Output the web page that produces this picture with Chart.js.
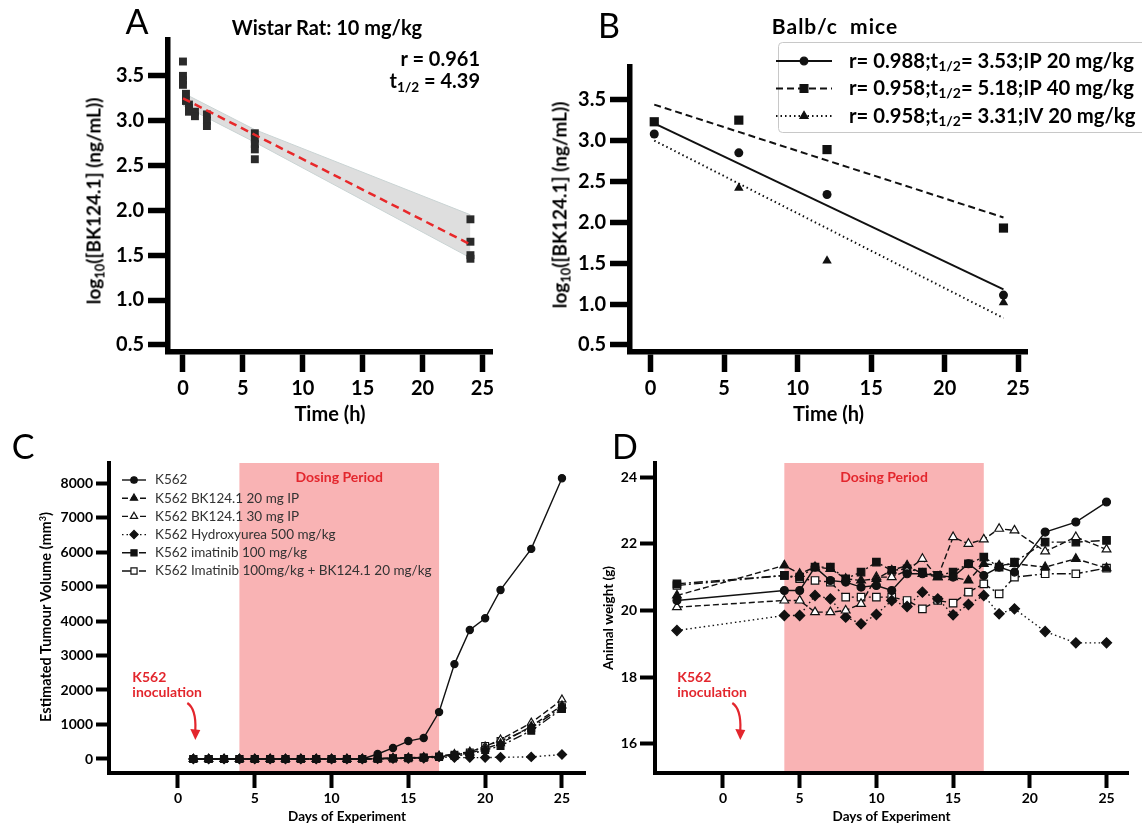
<!DOCTYPE html>
<html>
<head>
<meta charset="utf-8">
<title>BK124.1 pharmacokinetics and K562 xenograft</title>
<script src="https://cdn.jsdelivr.net/npm/chart.js@4.4.1/dist/chart.umd.min.js"></script>
<style>
  body { margin: 0; width: 1142px; height: 825px; overflow: hidden; background: #fff; position: relative; font-family: Lato, "Open Sans", sans-serif; }
  canvas { position: absolute; }
  .txt { position: absolute; white-space: pre; color: #000; line-height: 1; }
  .panel { font-size: 34px; }
  .b { font-weight: bold; }
  .vert { transform: translate(-50%, -50%) rotate(-90deg); font-weight: bold; }
  .mid { transform: translate(-50%, -50%); }
  .rmid { transform: translate(-100%, -50%); }
  sub { font-size: 68%; vertical-align: -0.3em; line-height: 0; }
  sup { font-size: 62%; vertical-align: 0.55em; line-height: 0; }
</style>
</head>
<body>
<canvas id="chartA" width="540" height="430" style="left:0;top:0"></canvas>
<canvas id="chartB" width="602" height="430" style="left:540px;top:0"></canvas>
<canvas id="chartC" width="600" height="395" style="left:0;top:430px"></canvas>
<canvas id="chartD" width="562" height="395" style="left:580px;top:430px"></canvas>

<div class="txt panel mid" style="left:137px;top:21px">A</div>
<div class="txt panel mid" style="left:609px;top:25px">B</div>
<div class="txt panel mid" style="left:23px;top:446px">C</div>
<div class="txt panel mid" style="left:625px;top:446px">D</div>

<div class="txt b mid" style="left:327px;top:27px;font-size:20px">Wistar Rat: 10 mg/kg</div>
<div class="txt b rmid" style="left:480px;top:58px;font-size:20px">r = 0.961</div>
<div class="txt b rmid" style="left:480px;top:80px;font-size:20px">t<sub>1/2</sub> = 4.39</div>
<div class="txt b mid" style="left:835px;top:25px;font-size:21px;letter-spacing:1px">Balb/c  mice</div>

<div class="txt vert" style="left:93px;top:201px;font-size:19px">log<sub>10</sub>([BK124.1] (ng/mL))</div>
<div class="txt vert" style="left:559px;top:205px;font-size:19px">log<sub>10</sub>([BK124.1] (ng/mL))</div>
<div class="txt vert" style="left:46px;top:617px;font-size:14.5px">Estimated Tumour Volume (mm<sup>3</sup>)</div>

<script>
// ---- Panel A: Wistar rat, 10 mg/kg ----
const aTime = [0, 0, 0, 0, 0.25, 0.25, 0.5, 0.5, 0.5, 1, 1, 2, 2, 2, 6, 6, 6, 6, 6, 24, 24, 24, 24];
const aConc = [3.66, 3.5, 3.45, 3.4, 3.3, 3.22, 3.18, 3.14, 3.1, 3.1, 3.05, 3.07, 3.0, 2.94, 2.86, 2.8, 2.74, 2.68, 2.57, 1.9, 1.65, 1.5, 1.46];
const aFitTime = [0, 24];
const aFitConc = [3.25, 1.62];
const aBandTime = [0, 6, 24];
const aBandUpper = [3.31, 2.9, 1.95];
const aBandLower = [3.17, 2.76, 1.47];

// ---- Panel B: Balb/c mice ----
const bTime = [0.25, 6, 12, 24];
const bIP20 = [3.08, 2.85, 2.34, 1.11];
const bIP40 = [3.23, 3.25, 2.89, 1.93];
const bIVTime = [6, 12, 24];
const bIV20 = [2.42, 1.53, 1.02];
const bFitTime = [0.25, 24];
const bFitIP20 = [3.21, 1.18];
const bFitIP40 = [3.44, 2.06];
const bFitIV20 = [3.0, 0.83];
const bR = ['0.988', '0.958', '0.958'];
const bHalfLife = ['3.53', '5.18', '3.31'];
const bRoute = ['IP 20 mg/kg', 'IP 40 mg/kg', 'IV 20 mg/kg'];

const pkXTicks = [0, 5, 10, 15, 20, 25];
const pkYTicks = [0.5, 1.0, 1.5, 2.0, 2.5, 3.0, 3.5];

// ---- Panels C and D: K562 xenograft ----
const groupNames = ['K562', 'K562 BK124.1 20 mg IP', 'K562 BK124.1 30 mg IP', 'K562 Hydroxyurea 500 mg/kg', 'K562 imatinib 100 mg/kg', 'K562 Imatinib 100mg/kg + BK124.1 20 mg/kg'];
const dosingPeriod = [4, 17];
const inoculationDay = 1;
const dayTicks = [0, 5, 10, 15, 20, 25];

const cDays = [1, 2, 3, 4, 5, 6, 7, 8, 9, 10, 11, 12, 13, 14, 15, 16, 17, 18, 19, 20, 21, 23, 25];
const cK562 = [0, 0, 0, 0, 0, 0, 0, 0, 0, 0, 0, 0, 145, 320, 520, 610, 1360, 2750, 3740, 4080, 4900, 6090, 8140];
const cBK20 = [0, 0, 0, 0, 0, 0, 0, 0, 0, 0, 0, 0, 10, 20, 30, 40, 80, 110, 170, 300, 450, 950, 1550];
const cBK30 = [0, 0, 0, 0, 0, 0, 0, 0, 0, 0, 0, 0, 15, 25, 35, 50, 90, 140, 210, 360, 560, 1050, 1720];
const cHydroxyurea = [0, 0, 0, 0, 0, 0, 0, 0, 0, 0, 0, 0, 5, 10, 15, 20, 60, 40, 40, 40, 50, 60, 130];
const cImatinib = [0, 0, 0, 0, 0, 0, 0, 0, 0, 0, 0, 0, 10, 15, 25, 35, 60, 90, 140, 260, 380, 820, 1450];
const cCombo = [0, 0, 0, 0, 0, 0, 0, 0, 0, 0, 0, 0, 10, 20, 30, 45, 70, 120, 190, 380, 520, 900, 1500];
const cYTicks = [0, 1000, 2000, 3000, 4000, 5000, 6000, 7000, 8000];

const dDays = [-3, 4, 5, 6, 7, 8, 9, 10, 11, 12, 13, 14, 15, 16, 17, 18, 19, 21, 23, 25];
const dK562 = [20.3, 20.6, 20.6, 21.3, 20.9, 20.85, 20.7, 20.75, 20.6, 21.1, 21.1, 21.05, 21.0, 21.4, 21.05, 21.3, 21.15, 22.35, 22.65, 23.25];
const dBK20 = [20.45, 21.35, 21.1, 21.3, 21.25, 20.95, 20.9, 20.95, 21.2, 21.35, 21.1, 21.0, 21.0, 20.9, 21.4, 21.35, 21.4, 21.3, 21.55, 21.27];
const dBK30 = [20.1, 20.3, 20.3, 19.95, 19.95, 20.0, 20.2, 21.0, 21.0, 21.2, 21.55, 21.0, 22.2, 22.0, 22.13, 22.45, 22.4, 21.77, 22.2, 21.83];
const dHydroxyurea = [19.4, 19.85, 19.85, 20.45, 20.35, 19.8, 19.6, 19.88, 20.3, 20.12, 20.55, 20.35, 19.87, 20.18, 20.45, 19.9, 20.05, 19.37, 19.03, 19.03];
const dImatinib = [20.8, 21.05, 21.0, 21.3, 21.3, 20.95, 21.15, 21.45, 21.2, 21.25, 21.15, 21.05, 21.15, 21.4, 21.6, 21.3, 21.45, 22.05, 22.05, 22.1];
const dCombo = [20.75, 21.05, 20.95, 20.9, 20.85, 20.4, 20.4, 20.4, 20.4, 20.3, 20.05, 20.3, 20.22, 20.55, 20.8, 20.5, 21.0, 21.1, 21.1, 21.27];
const dYTicks = [16, 18, 20, 22, 24];

Chart.defaults.font.family = 'Lato, "Open Sans", sans-serif';
const RED = '#e3262d';

const groupStyles = [
    { pointStyle: 'circle', fill: '#111', dash: [], r: 3.6 },
    { pointStyle: 'triangle', fill: '#111', dash: [6, 3], r: 4.6 },
    { pointStyle: 'triangle', fill: '#fff', dash: [6, 3], r: 4.6 },
    { pointStyle: 'rectRot', fill: '#111', dash: [1.5, 3], r: 4.6 },
    { pointStyle: 'rect', fill: '#111', dash: [9, 3, 2, 3], r: 4.8 },
    { pointStyle: 'rect', fill: '#fff', dash: [9, 3, 2, 3], r: 4.8 }
];

function xy(xs, ys) {
    return xs.map((x, i) => ({ x: x, y: ys[i] }));
}

function axis(o) {
    return {
        type: 'linear',
        position: o.position,
        min: o.min,
        max: o.max,
        afterBuildTicks: s => { s.ticks = o.ticks.map(v => ({ value: v })); },
        afterFit: s => {
            if (o.position === 'bottom') s.height = o.size;
            else s.width = o.size;
        },
        border: { display: true, color: '#000', width: o.lineWidth },
        grid: { display: true, drawOnChartArea: false, drawTicks: true, tickLength: o.tickLength, tickWidth: o.lineWidth, tickColor: '#000' },
        ticks: { color: '#000', padding: o.pad, autoSkip: false, maxRotation: 0, font: { size: o.fontSize, weight: 'bold' }, callback: o.format || (v => v) },
        title: o.title
            ? { display: true, text: o.title, color: '#000', font: { size: o.titleSize, weight: 'bold' }, padding: o.titlePad }
            : { display: false }
    };
}

function baseOptions(padding, xAxis, yAxis) {
    return {
        responsive: false,
        animation: false,
        layout: { padding: padding },
        plugins: { legend: { display: false }, tooltip: { enabled: false } },
        scales: { x: xAxis, y: yAxis }
    };
}

// pink dosing window plus its label
const dosingBand = {
    id: 'dosingBand',
    beforeDatasetsDraw(chart) {
        const { ctx, chartArea: a, scales: { x } } = chart;
        const x0 = x.getPixelForValue(dosingPeriod[0]);
        const x1 = x.getPixelForValue(dosingPeriod[1]);
        ctx.save();
        ctx.fillStyle = '#f9b3b4';
        ctx.fillRect(x0, a.top, x1 - x0, a.bottom - a.top - 2);
        ctx.fillStyle = RED;
        ctx.font = 'bold 14px Lato';
        ctx.textAlign = 'center';
        ctx.textBaseline = 'middle';
        ctx.fillText('Dosing Period', (x0 + x1) / 2, a.top + 14);
        ctx.restore();
    }
};

// red "K562 inoculation" note with curved arrow
const inoculation = {
    id: 'inoculation',
    afterDatasetsDraw(chart) {
        const { ctx, chartArea: a, scales: { x } } = chart;
        const px = x.getPixelForValue(inoculationDay);
        const b = a.bottom;
        ctx.save();
        ctx.fillStyle = RED;
        ctx.strokeStyle = RED;
        ctx.font = 'bold 14px Lato';
        ctx.textAlign = 'left';
        ctx.textBaseline = 'middle';
        ctx.fillText('K562', px - 61, b - 96);
        ctx.fillText('inoculation', px - 61, b - 81);
        ctx.lineWidth = 2.2;
        ctx.beginPath();
        ctx.moveTo(px - 6, b - 70);
        ctx.quadraticCurveTo(px + 3, b - 64, px + 2, b - 43);
        ctx.stroke();
        ctx.beginPath();
        ctx.moveTo(px + 2, b - 33);
        ctx.lineTo(px - 3, b - 44);
        ctx.lineTo(px + 7, b - 43);
        ctx.closePath();
        ctx.fill();
        ctx.restore();
    }
};

function drawSample(ctx, x0, x1, y, dash, width, style, radius, fill) {
    ctx.save();
    ctx.strokeStyle = '#111';
    ctx.lineWidth = width;
    ctx.setLineDash(dash);
    ctx.beginPath();
    ctx.moveTo(x0, y);
    ctx.lineTo(x1, y);
    ctx.stroke();
    ctx.setLineDash([]);
    ctx.fillStyle = fill;
    ctx.lineWidth = 1.2;
    Chart.helpers.drawPoint(ctx, { pointStyle: style, radius: radius, borderWidth: 1.2, rotation: 0 }, (x0 + x1) / 2, y);
    ctx.restore();
}

const legendC = {
    id: 'legendC',
    afterDraw(chart) {
        const { ctx, chartArea: a } = chart;
        ctx.save();
        ctx.font = '13.5px Lato';
        ctx.fillStyle = '#333';
        ctx.textBaseline = 'middle';
        groupNames.forEach((name, i) => {
            const y = a.top + 17 + i * 18.2;
            const st = groupStyles[i];
            drawSample(ctx, a.left + 13, a.left + 37, y, st.dash, 1.4, st.pointStyle, st.r * 0.9, st.fill);
            ctx.fillStyle = '#333';
            ctx.fillText(name, a.left + 46, y);
        });
        ctx.restore();
    }
};

const bStyles = [
    { dash: [], style: 'circle', r: 4.5 },
    { dash: [7, 4], style: 'rect', r: 6.5 },
    { dash: [1.5, 3], style: 'triangle', r: 5.5 }
];

const legendB = {
    id: 'legendB',
    afterDraw(chart) {
        const ctx = chart.ctx;
        ctx.save();
        ctx.strokeStyle = '#c8c8c8';
        ctx.lineWidth = 1;
        ctx.fillStyle = 'rgba(255,255,255,0.9)';
        ctx.beginPath();
        ctx.roundRect(238.5, 42.5, 400, 90, 4);
        ctx.fill();
        ctx.stroke();
        bR.forEach((r, i) => {
            const y = 61 + i * 27.5;
            drawSample(ctx, 236, 292, y, bStyles[i].dash, 2, bStyles[i].style, bStyles[i].r * 0.85, '#111');
            let x = 309;
            ctx.fillStyle = '#000';
            ctx.textBaseline = 'middle';
            ctx.font = 'bold 20.3px Lato';
            const head = 'r= ' + r + ';t';
            ctx.fillText(head, x, y);
            x += ctx.measureText(head).width;
            ctx.font = 'bold 14px Lato';
            ctx.fillText('1/2', x, y + 5);
            x += ctx.measureText('1/2').width;
            ctx.font = 'bold 20.3px Lato';
            ctx.fillText('= ' + bHalfLife[i] + ';' + bRoute[i], x, y);
        });
        ctx.restore();
    }
};

// ---- Panel A ----
new Chart(document.getElementById('chartA'), {
    type: 'scatter',
    data: {
        datasets: [
            { data: xy(aFitTime, aFitConc), showLine: true, borderColor: '#e8282a', borderWidth: 2.5, borderDash: [8, 5], pointRadius: 0, order: 0 },
            { data: xy(aTime, aConc), pointStyle: 'rect', pointRadius: 5.6, pointBackgroundColor: '#2a2a2a', pointBorderWidth: 0, order: 1 },
            { data: xy(aBandTime, aBandUpper), showLine: true, borderColor: '#c9d3d3', borderWidth: 1, pointRadius: 0, fill: false, order: 2 },
            { data: xy(aBandTime, aBandLower), showLine: true, borderColor: '#c9d3d3', borderWidth: 1, pointRadius: 0, fill: '-1', backgroundColor: 'rgba(200,200,200,0.6)', order: 3 }
        ]
    },
    options: baseOptions({ left: 0, top: 40, right: 48, bottom: 0 },
        axis({ position: 'bottom', min: -1.25, max: 25.8, ticks: pkXTicks, size: 78, lineWidth: 5.5, tickLength: 20, pad: 5, fontSize: 20, title: 'Time (h)', titleSize: 20, titlePad: { top: 0, bottom: 3 } }),
        axis({ position: 'left', min: 0.42, max: 3.9, ticks: pkYTicks, size: 168, lineWidth: 5.5, tickLength: 20, pad: 4, fontSize: 20, format: v => v.toFixed(1) })
    )
});

// ---- Panel B ----
new Chart(document.getElementById('chartB'), {
    type: 'scatter',
    data: {
        datasets: [
            { data: xy(bTime, bIP20), pointStyle: 'circle', pointRadius: 4.5, pointBackgroundColor: '#111', pointBorderWidth: 0 },
            { data: xy(bTime, bIP40), pointStyle: 'rect', pointRadius: 6.5, pointBackgroundColor: '#111', pointBorderWidth: 0 },
            { data: xy(bIVTime, bIV20), pointStyle: 'triangle', pointRadius: 5.5, pointBackgroundColor: '#111', pointBorderWidth: 0 },
            { data: xy(bFitTime, bFitIP20), showLine: true, borderColor: '#111', borderWidth: 2, pointRadius: 0 },
            { data: xy(bFitTime, bFitIP40), showLine: true, borderColor: '#111', borderWidth: 2, borderDash: [7, 4], pointRadius: 0 },
            { data: xy(bFitTime, bFitIV20), showLine: true, borderColor: '#111', borderWidth: 2, borderDash: [1.5, 3], pointRadius: 0 }
        ]
    },
    options: baseOptions({ left: 0, top: 67, right: 115, bottom: 0 },
        axis({ position: 'bottom', min: -1.4, max: 25.6, ticks: pkXTicks, size: 78, lineWidth: 5.5, tickLength: 20, pad: 5, fontSize: 20, title: 'Time (h)', titleSize: 20, titlePad: { top: 0, bottom: 3 } }),
        axis({ position: 'left', min: 0.414, max: 3.9, ticks: pkYTicks, size: 90, lineWidth: 5.5, tickLength: 20, pad: 4, fontSize: 20, format: v => v.toFixed(1) })
    ),
    plugins: [legendB]
});

function groupDatasets(days, series, scale) {
    return series.map((vals, i) => ({
        label: groupNames[i],
        data: xy(days, vals),
        showLine: true,
        borderColor: '#111',
        borderWidth: 1.4,
        borderDash: groupStyles[i].dash,
        pointStyle: groupStyles[i].pointStyle,
        pointRadius: groupStyles[i].r * scale,
        pointBackgroundColor: groupStyles[i].fill,
        pointBorderColor: '#111',
        pointBorderWidth: 1.2
    }));
}

// ---- Panel C ----
new Chart(document.getElementById('chartC'), {
    type: 'scatter',
    data: { datasets: groupDatasets(cDays, [cK562, cBK20, cBK30, cHydroxyurea, cImatinib, cCombo], 1) },
    options: baseOptions({ left: 0, top: 33, right: 15, bottom: 0 },
        axis({ position: 'bottom', min: -4.49, max: 26.5, ticks: dayTicks, size: 52, lineWidth: 4, tickLength: 15, pad: 2, fontSize: 14, title: 'Days of Experiment', titleSize: 13.5, titlePad: { top: 0, bottom: 0 } }),
        axis({ position: 'left', min: -406, max: 8580, ticks: cYTicks, size: 109, lineWidth: 4, tickLength: 13, pad: 3, fontSize: 14 })
    ),
    plugins: [dosingBand, inoculation, legendC]
});

// ---- Panel D ----
new Chart(document.getElementById('chartD'), {
    type: 'scatter',
    data: { datasets: groupDatasets(dDays, [dK562, dBK20, dBK30, dHydroxyurea, dImatinib, dCombo], 1.1) },
    options: baseOptions({ left: 0, top: 33, right: 14, bottom: 0 },
        axis({ position: 'bottom', min: -4.43, max: 26.4, ticks: dayTicks, size: 52, lineWidth: 4, tickLength: 15, pad: 2, fontSize: 14, title: 'Days of Experiment', titleSize: 13.5, titlePad: { top: 0, bottom: 0 } }),
        axis({ position: 'left', min: 15.13, max: 24.42, ticks: dYTicks, size: 75, lineWidth: 4, tickLength: 15, pad: 3, fontSize: 14, title: 'Animal weight (g)', titleSize: 13.5, titlePad: { top: 21, bottom: 0 } })
    ),
    plugins: [dosingBand, inoculation]
});
</script>
</body>
</html>
